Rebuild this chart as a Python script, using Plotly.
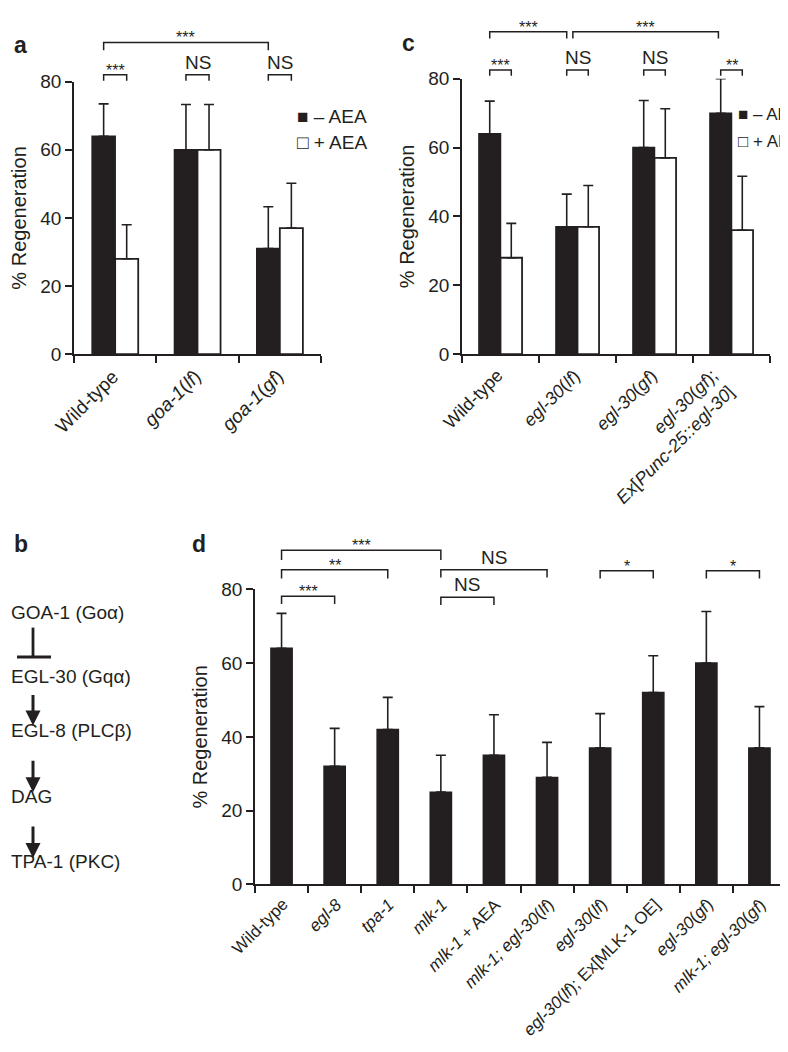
import plotly.graph_objects as go

W, H = 788, 1052
FONT = "Liberation Sans"
INK = "#231f20"

# panel a
a_cats = ["Wild-type", "<i>goa-1</i>(<i>lf</i>)", "<i>goa-1</i>(<i>gf</i>)"]
a_minus = [64, 60, 31]
a_minus_err = [9.5, 13.3, 12.3]
a_plus = [28, 60, 37]
a_plus_err = [10, 13.3, 13.2]

# panel c
c_cats = ["Wild-type", "<i>egl-30</i>(<i>lf</i>)", "<i>egl-30</i>(<i>gf</i>)",
          "<i>egl-30</i>(<i>gf</i>);<br><i>Ex</i>[<i>Punc-25::egl-30</i>]"]
c_minus = [64, 37, 60, 70]
c_minus_err = [9.5, 9.5, 13.7, 10]
c_plus = [28, 37, 57, 36]
c_plus_err = [10, 12, 14.3, 15.7]

# panel d
d_cats = ["Wild-type", "<i>egl-8</i>", "<i>tpa-1</i>", "<i>mlk-1</i>", "<i>mlk-1</i> + AEA",
          "<i>mlk-1; egl-30</i>(<i>lf</i>)", "<i>egl-30</i>(<i>lf</i>)",
          "<i>egl-30</i>(<i>lf</i>); Ex[MLK-1 OE]", "<i>egl-30</i>(<i>gf</i>)",
          "<i>mlk-1; egl-30</i>(<i>gf</i>)"]
d_vals = [64, 32, 42, 25, 35, 29, 37, 52, 60, 37]
d_err = [9.5, 10.3, 8.7, 10, 11, 9.5, 9.3, 10, 14, 11.2]

pathway = ["GOA-1 (Goα)", "EGL-30 (Gqα)", "EGL-8 (PLCβ)", "DAG", "TPA-1 (PKC)"]
y_ticks = [0, 20, 40, 60, 80]


def X(px):
    return px / W


def Y(py):
    return 1 - py / H


fig = go.Figure()
OFF, BW = 0.14, 0.28


def err(v):
    return dict(type="data", array=v, arrayminus=[0] * len(v), symmetric=False,
                color=INK, thickness=1.6, width=5)


def add_pair(xa, ya, minus, minus_err, plus, plus_err):
    n = len(minus)
    fig.add_bar(x=[i - OFF for i in range(n)], y=minus, width=BW, xaxis=xa, yaxis=ya,
                marker=dict(color=INK, line=dict(color=INK, width=1.5)),
                error_y=err(minus_err), showlegend=False)
    fig.add_bar(x=[i + OFF for i in range(n)], y=plus, width=BW, xaxis=xa, yaxis=ya,
                marker=dict(color="white", line=dict(color=INK, width=1.8)),
                error_y=err(plus_err), showlegend=False)


add_pair("x", "y", a_minus, a_minus_err, a_plus, a_plus_err)
add_pair("x2", "y2", c_minus, c_minus_err, c_plus, c_plus_err)
fig.add_bar(x=list(range(len(d_vals))), y=d_vals, width=0.4, xaxis="x3", yaxis="y3",
            marker=dict(color=INK, line=dict(color=INK, width=1.5)),
            error_y=err(d_err), showlegend=False)


def xax(domain, n):
    return dict(domain=domain, range=[-0.5, n - 0.5], showline=True, linecolor=INK,
                linewidth=1.8, ticks="outside", tickvals=[i - 0.5 for i in range(n + 1)],
                ticktext=[""] * (n + 1), ticklen=7, tickwidth=1.6, tickcolor=INK,
                showgrid=False, zeroline=False)


def yax(domain, anchor):
    return dict(domain=domain, range=[0, 80], anchor=anchor, showline=True,
                linecolor=INK, linewidth=1.8, ticks="outside", tickvals=y_ticks,
                ticklen=7, tickwidth=1.6, tickcolor=INK, showgrid=False,
                zeroline=False, tickfont=dict(size=19),
                title=dict(text="% Regeneration", font=dict(size=20), standoff=8))


fig.update_layout(
    width=W, height=H, margin=dict(l=0, r=0, t=0, b=0),
    plot_bgcolor="white", paper_bgcolor="white",
    font=dict(family=FONT, color=INK, size=16),
    xaxis=dict(xax([X(66), X(313)], 3), anchor="y"),
    yaxis=yax([Y(343), Y(65)], "x"),
    xaxis2=dict(xax([X(454), X(762)], 4), anchor="y2"),
    yaxis2=yax([Y(343), Y(62)], "x2"),
    xaxis3=dict(xax([X(247), X(778)], 10), anchor="y3"),
    yaxis3=yax([Y(884), Y(583)], "x3"),
)

ann = []
shapes = []


def bracket(xref, x0, x1, ytop, text, drop=8):
    shapes.append(dict(type="path", xref=xref, yref="paper",
                       path=f"M {x0},{Y(ytop + drop)} L {x0},{Y(ytop)} L {x1},{Y(ytop)} L {x1},{Y(ytop + drop)}",
                       line=dict(color=INK, width=1.5)))
    stars = "*" in text
    ann.append(dict(x=(x0 + x1) / 2, xref=xref, y=Y(ytop + (6 if stars else 0)), yref="paper",
                    text=text, yanchor="bottom", showarrow=False,
                    font=dict(size=16 if stars else 19, color=INK)))


# panel a brackets
bracket("x", -OFF, 2 - OFF, 25, "***")
for i, t in enumerate(["***", "NS", "NS"]):
    bracket("x", i - OFF, i + OFF, 58, t, drop=6)

# panel c brackets
bracket("x2", -OFF, 1 - OFF, 14, "***", drop=7)
bracket("x2", 1 - 0.06, 3 - OFF - 0.03, 14, "***", drop=7)
for i, t in enumerate(["***", "NS", "NS", "**"]):
    bracket("x2", i - OFF, i + OFF, 53, t, drop=6)

# panel d brackets
bracket("x3", 0, 3, 543, "***", drop=10)
bracket("x3", 0, 2, 563, "**", drop=9)
bracket("x3", 0, 1, 590, "***", drop=8)
bracket("x3", 3, 5, 563, "NS", drop=8)
bracket("x3", 3, 4, 591, "NS", drop=8)
bracket("x3", 6, 7, 564, "*", drop=8)
bracket("x3", 8, 9, 564, "*", drop=8)


def cat_labels(xref, cats, ypx, size, shift=0.12):
    for i, c in enumerate(cats):
        ann.append(dict(x=i + shift, xref=xref, y=Y(ypx), yref="paper", text=c, textangle=-45,
                        xanchor="right", yanchor="top", showarrow=False, align="right",
                        font=dict(size=size)))


cat_labels("x", a_cats, 352, 19)
cat_labels("x2", c_cats, 352, 18)
cat_labels("x3", d_cats, 892, 17, shift=0.25)

# legends
for xp, ys, sz in [(287, (88, 114), 19), (728, (87, 114), 17)]:
    ann.append(dict(x=X(xp), y=Y(ys[0]), xref="paper", yref="paper", text="■ – AEA",
                    xanchor="left", showarrow=False, font=dict(size=sz)))
    ann.append(dict(x=X(xp), y=Y(ys[1]), xref="paper", yref="paper", text="□ + AEA",
                    xanchor="left", showarrow=False, font=dict(size=sz)))

# panel letters
for t, xp, yp in [("a", 4, 12), ("c", 392, 10), ("b", 4, 537), ("d", 182, 537)]:
    ann.append(dict(x=X(xp), y=Y(yp), xref="paper", yref="paper", text=f"<b>{t}</b>",
                    xanchor="left", showarrow=False, font=dict(size=23)))

# panel b pathway
for t, yp in zip(pathway, [607, 672, 740, 807, 873]):
    ann.append(dict(x=X(1), y=Y(yp), xref="paper", yref="paper", text=t, xanchor="left",
                    showarrow=False, font=dict(size=19)))
shapes.append(dict(type="line", xref="paper", yref="paper", x0=X(25), x1=X(25),
                   y0=Y(622), y1=Y(652), line=dict(color=INK, width=2.8)))
shapes.append(dict(type="line", xref="paper", yref="paper", x0=X(9), x1=X(43),
                   y0=Y(652), y1=Y(652), line=dict(color=INK, width=2.8)))
for y0, y1 in [(690, 722), (757, 790), (824, 857)]:
    ann.append(dict(x=X(25), y=Y(y1), xref="paper", yref="paper", ax=0, ay=-(y1 - y0),
                    text="", showarrow=True, arrowhead=2, arrowsize=1.0, arrowwidth=3,
                    arrowcolor=INK))

fig.update_layout(annotations=ann, shapes=shapes)
fig.write_html("out.html")
